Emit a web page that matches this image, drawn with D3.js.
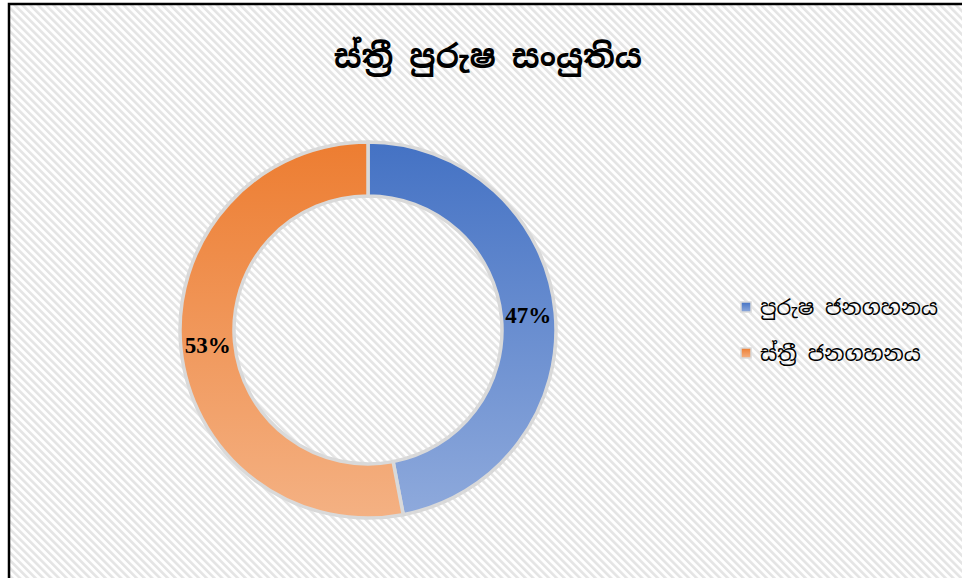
<!DOCTYPE html>
<html lang="si">
<head>
  <meta charset="UTF-8" />
  <title>ස්ත්‍රී පුරුෂ සංයුතිය</title>
  <script src="https://d3js.org/d3.v7.min.js"></script>
  <style>
    body { margin: 0; background: #fff; }
    svg { display: block; }
    .title { font-family: 'Iskoola Pota', 'Noto Sans Sinhala', 'Noto Sans', sans-serif; font-size: 32px; font-weight: bold; }
    .legend text { font-family: 'Iskoola Pota', 'Noto Sans Sinhala', 'Noto Sans', sans-serif; font-size: 21px; }
    .pct { font-family: 'Liberation Serif', 'Times New Roman', serif; font-size: 23px; font-weight: bold; }
  </style>
</head>
<body>
  <svg></svg>

  <script>
    // data
    const categories = ["පුරුෂ ජනගහනය", "ස්ත්‍රී ජනගහනය"];
    const values = [47, 53];
    const titleText = "ස්ත්‍රී පුරුෂ සංයුතිය";
    const colorTop = ["#4472c4", "#ed7d31"];
    const colorBottom = ["#8faadc", "#f4b183"];

    const width = 962, height = 578;
    const svg = d3.select("svg").attr("width", width).attr("height", height);
    const defs = svg.append("defs");

    // diagonal hatch background
    const pat = defs.append("pattern")
      .attr("id", "hatch")
      .attr("patternUnits", "userSpaceOnUse")
      .attr("width", 5.5).attr("height", 6)
      .attr("patternTransform", "rotate(-45)");
    pat.append("rect").attr("width", 6).attr("height", 6).attr("fill", "#ffffff");
    pat.append("rect").attr("width", 2.6).attr("height", 6).attr("fill", "#e4e4e4");

    svg.append("rect")
      .attr("x", 9).attr("y", 4)
      .attr("width", width + 20).attr("height", height + 20)
      .attr("fill", "url(#hatch)")
      .attr("stroke", "#000").attr("stroke-width", 2.5);

    svg.append("text")
      .attr("class", "title")
      .attr("x", 488).attr("y", 68)
      .attr("text-anchor", "middle")
      .text(titleText);

    const cx = 368, cy = 330, rOuter = 188, rInner = 134;

    // vertical gradients over the ring's box (path coords are centred)
    categories.forEach((c, i) => {
      const g = defs.append("linearGradient")
        .attr("id", "grad" + i)
        .attr("gradientUnits", "userSpaceOnUse")
        .attr("x1", 0).attr("x2", 0)
        .attr("y1", -rOuter).attr("y2", rOuter);
      g.append("stop").attr("offset", "0%").attr("stop-color", colorTop[i]);
      g.append("stop").attr("offset", "100%").attr("stop-color", colorBottom[i]);
    });

    const pie = d3.pie().sort(null).value(d => d);
    const arc = d3.arc().innerRadius(rInner).outerRadius(rOuter);
    const labelArc = d3.arc().innerRadius((rInner + rOuter) / 2).outerRadius((rInner + rOuter) / 2);
    const total = d3.sum(values);

    const g = svg.append("g").attr("transform", `translate(${cx},${cy})`);
    const arcs = pie(values);

    g.selectAll("path")
      .data(arcs)
      .join("path")
      .attr("d", arc)
      .attr("fill", (d, i) => `url(#grad${i})`)
      .attr("stroke", "#d9d9d9")
      .attr("stroke-width", 3.5);

    g.selectAll("text.pct")
      .data(arcs)
      .join("text")
      .attr("class", "pct")
      .attr("transform", d => `translate(${labelArc.centroid(d)})`)
      .attr("text-anchor", "middle")
      .attr("dy", "0.35em")
      .text(d => Math.round(d.data / total * 100) + "%");

    // legend
    const legend = svg.append("g").attr("class", "legend");
    const items = legend.selectAll("g")
      .data(categories)
      .join("g")
      .attr("transform", (d, i) => `translate(741,${302 + i * 46})`);

    items.append("rect")
      .attr("width", 10).attr("height", 10)
      .attr("fill", (d, i) => {
        const lg = defs.append("linearGradient")
          .attr("id", "lgrad" + i)
          .attr("x1", 0).attr("x2", 0).attr("y1", 0).attr("y2", 1);
        lg.append("stop").attr("offset", "0%").attr("stop-color", colorTop[i]);
        lg.append("stop").attr("offset", "100%").attr("stop-color", colorBottom[i]);
        return `url(#lgrad${i})`;
      })
      .attr("stroke", "#d9d9d9")
      .attr("stroke-width", 1.5);

    items.append("text")
      .attr("x", 19).attr("y", 13)
      .text(d => d);
  </script>
</body>
</html>
